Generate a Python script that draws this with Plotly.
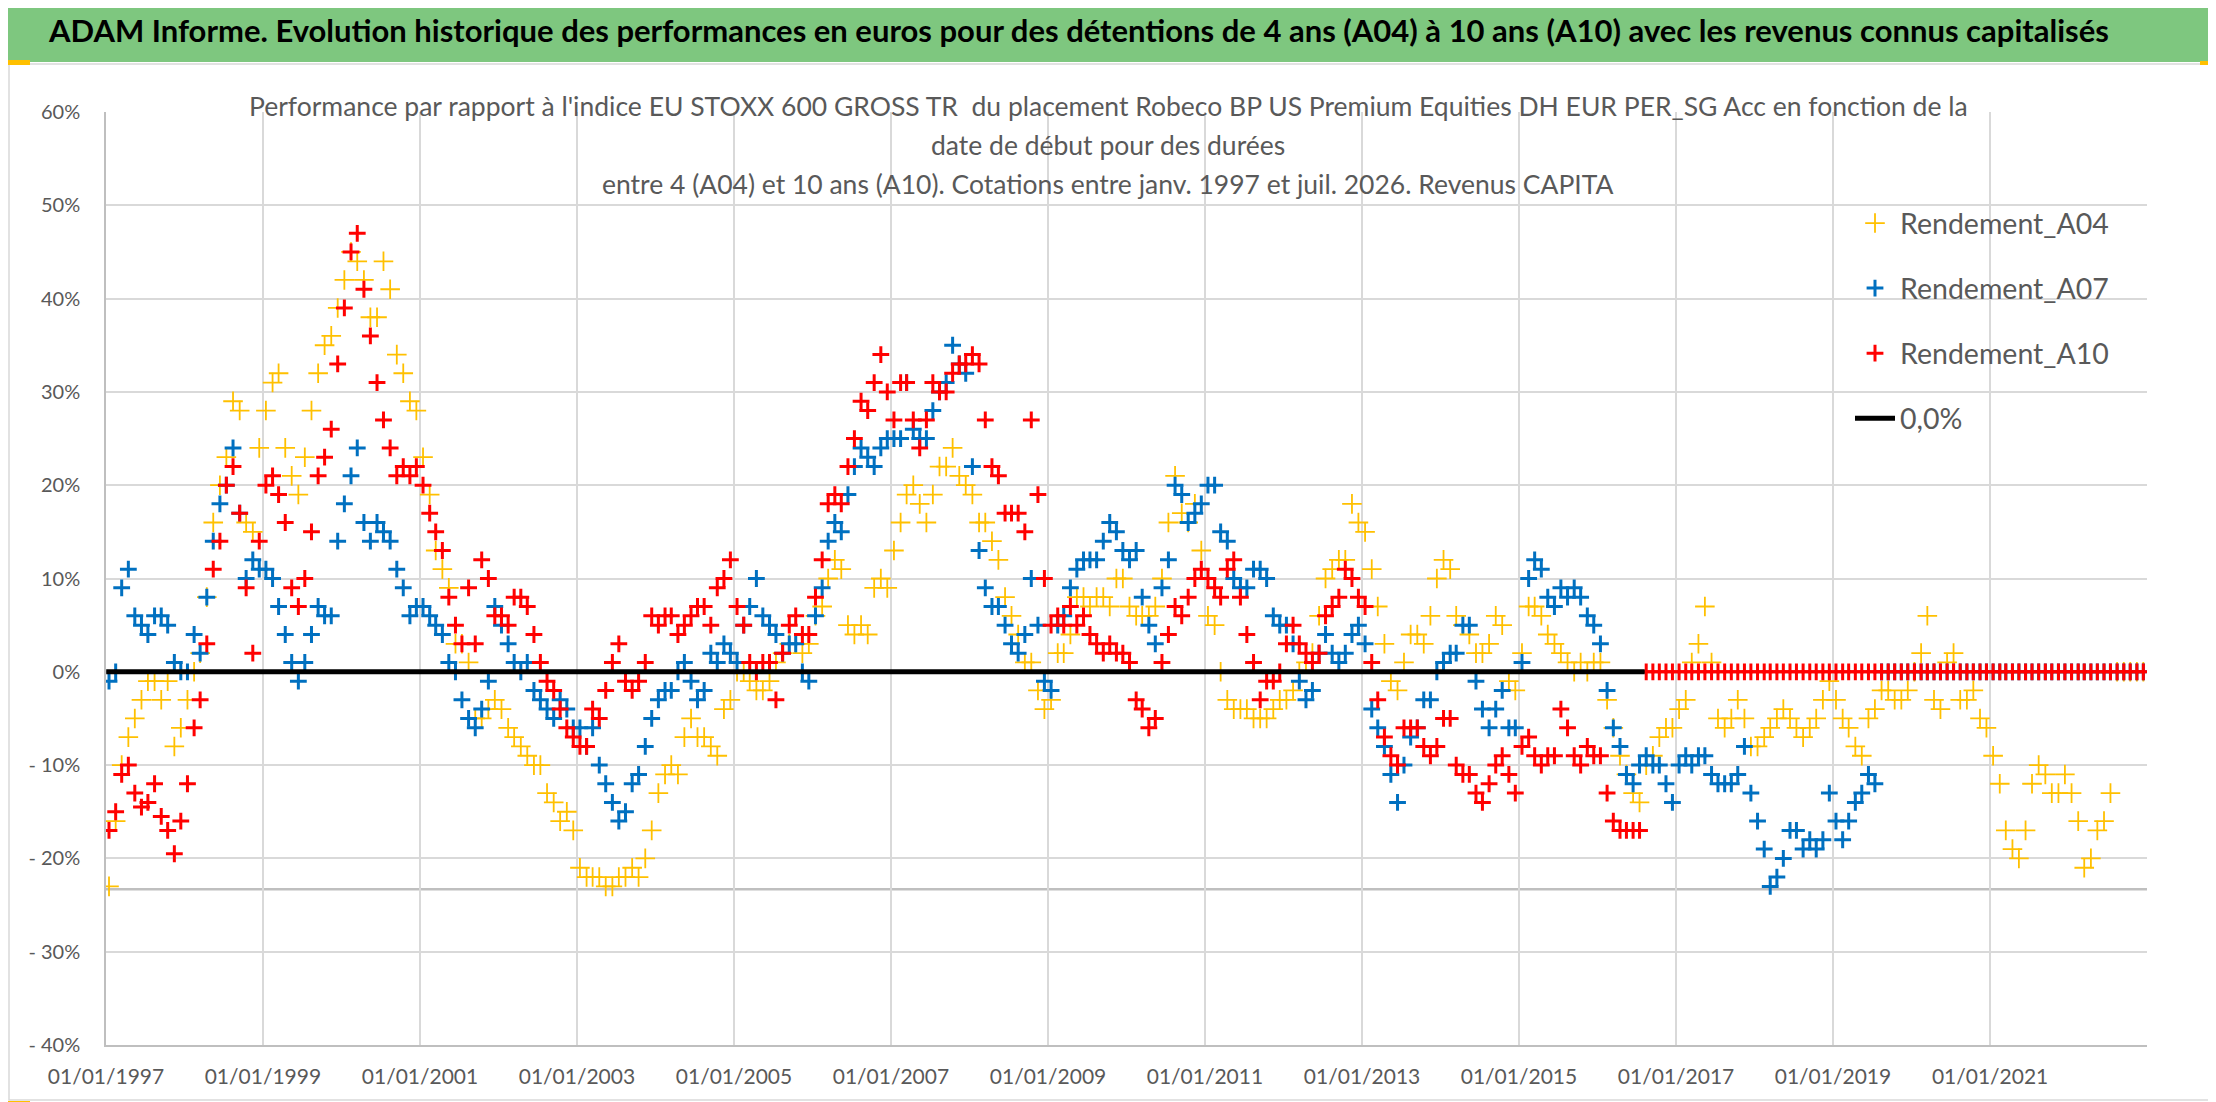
import pandas as pd
import plotly.graph_objects as go

# monthly readings (in %), one row per year, Jan..Dec, from 1997 to 2022
rendement_a04 = [
    -23, -16, -10, -7, -5, -3, -1, -1, -3, -1, -8, -6,      # 1997
    -3, 0, 2, 8, 16, 20, 23, 29, 28, 16, 15, 24,            # 1998
    28, 31, 32, 24, 21, 19, 23, 28, 32, 35, 36, 39,         # 1999
    42, 45, 44, 42, 38, 38, 44, 41, 34, 32, 29, 28,         # 2000
    23, 19, 13, 11, 9, 3, 3, 1, -5, -5, -4, -3,             # 2001
    -4, -6, -7, -8, -9, -10, -10, -13, -14, -16, -15, -17,  # 2002
    -21, -22, -22, -22, -23, -23, -22, -22, -21, -22, -20, -17,  # 2003
    -13, -11, -10, -11, -7, -5, -7, -7, -8, -9, -4, -3,     # 2004
    0, 0, -1, -2, -2, -1, 1, 2, 3, 3, 2, 3,                 # 2005
    6, 7, 10, 12, 11, 5, 4, 5, 4, 9, 10, 9,                 # 2006
    13, 16, 19, 20, 18, 16, 19, 22, 22, 24, 21, 20,         # 2007
    19, 16, 16, 14, 12, 8, 6, 4, 1, 1, -2, -4,              # 2008
    -3, 2, 2, 4, 8, 8, 7, 8, 8, 7, 10, 10,                  # 2009
    7, 6, 6, 6, 7, 10, 16, 21, 17, 16, 18, 13,              # 2010
    6, 5, 0, -3, -4, -4, -4, -5, -5, -5, -4, -3,            # 2011
    -3, -2, 0, 1, 2, 6, 10, 11, 12, 12, 18, 16,             # 2012
    15, 11, 7, 3, -1, -2, 1, 4, 4, 3, 6, 10,                # 2013
    12, 11, 6, 5, 4, 2, 2, 3, 6, 5, -1, -2,                 # 2014
    2, 7, 7, 6, 4, 3, 2, 1, 0, 1, 0, 1,                     # 2015
    1, -3, -6, -9, -11, -13, -14, -10, -9, -7, -6, -6,      # 2016
    -4, -3, 1, 3, 7, 1, -5, -6, -5, -3, -5, -8,             # 2017
    -8, -7, -6, -5, -4, -5, -6, -7, -6, -5, -3, -1,         # 2018
    -3, -5, -6, -8, -9, -5, -4, -2, -2, -3, -3, -2,         # 2019
    0, 2, 6, -3, -4, 1, 2, -3, -3, -2, -5, -6,              # 2020
    -9, -12, -17, -19, -20, -17, -12, -10, -11, -13, -13, -11,  # 2021
    -13, -16, -21, -20, -17, -16, -13, 0, 0, 0, 0, 0,       # 2022
]

rendement_a07 = [
    -1, 0, 9, 11, 6, 5, 4, 6, 6, 5, 1, 0,                   # 1997
    0, 4, 2, 8, 14, 18, 20, 24, 17, 10, 12, 11,             # 1998
    11, 10, 7, 4, 1, -1, 1, 4, 7, 6, 6, 14,                 # 1999
    18, 21, 24, 16, 14, 16, 15, 14, 11, 9, 6, 7,            # 2000
    7, 6, 5, 4, 1, 0, -3, -5, -6, -4, -1, 7,                # 2001
    5, 3, 1, 0, 1, -2, -3, -4, -5, -3, -4, -6,              # 2002
    -6, -8, -6, -10, -12, -14, -16, -15, -12, -11, -8, -5,  # 2003
    -3, -2, -2, 0, 1, -1, -3, -2, 2, 1, 3, 2,               # 2004
    1, 5, 7, 10, 6, 5, 4, 2, 3, 3, 0, -1,                   # 2005
    6, 9, 14, 16, 15, 19, 22, 24, 23, 22, 24, 25,           # 2006
    25, 25, 31, 26, 25, 25, 28, 30, 31, 35, 33, 32,         # 2007
    22, 13, 9, 7, 7, 5, 3, 2, 4, 10, 5, -1,                 # 2008
    -2, 5, 6, 9, 11, 12, 12, 12, 14, 16, 15, 13,            # 2009
    12, 13, 8, 5, 3, 9, 12, 20, 19, 16, 17, 18,             # 2010
    20, 20, 15, 14, 10, 9, 9, 11, 11, 10, 6, 5,             # 2011
    5, 3, -1, -3, -2, 2, 4, 2, 1, 2, 4, 5,                  # 2012
    3, -4, -6, -8, -11, -14, -10, -7, -6, -3, -3, 0,        # 2013
    1, 2, 2, 5, 5, -1, -4, -6, -4, -2, -6, -6,              # 2014
    1, 10, 12, 11, 8, 7, 9, 8, 9, 8, 6, 5,                  # 2015
    3, -2, -6, -8, -11, -12, -10, -9, -10, -10, -12, -14,   # 2016
    -10, -9, -10, -9, -9, -11, -12, -12, -12, -11, -8, -13, # 2017
    -16, -19, -23, -22, -20, -17, -17, -19, -18, -19, -18, -13,  # 2018
    -16, -18, -16, -14, -13, -11, -12, 0, 0, 0, 0, 0,       # 2019
    0, 0, 0, 0, 0, 0, 0, 0, 0, 0, 0, 0,                     # 2020
    0, 0, 0, 0, 0, 0, 0, 0, 0, 0, 0, 0,                     # 2021
    0, 0, 0, 0, 0, 0, 0, 0, 0, 0, 0, 0,                     # 2022
]

rendement_a10 = [
    -17, -15, -11, -10, -13, -14.5, -14, -12, -15.5, -17, -19.5, -16,  # 1997
    -12, -6, -3, 3, 11, 14, 20, 22, 17, 9, 2, 14,           # 1998
    20, 21, 19, 16, 9, 7, 10, 15, 21, 23, 26, 33,           # 1999
    39, 45, 47, 41, 36, 31, 27, 24, 21, 22, 21, 22,         # 2000
    20, 17, 15, 13, 8, 5, 3, 9, 3, 12, 10, 6,               # 2001
    6, 5, 8, 8, 7, 4, 1, -1, -2, -4, -6, -7,                # 2002
    -8, -8, -4, -5, -2, 1, 3, -1, -2, -1, 1, 6,             # 2003
    5, 6, 6, 4, 5, 6, 7, 7, 5, 9, 10, 12,                   # 2004
    7, 5, 1, 0, 1, 1, -3, 2, 5, 6, 4, 4,                    # 2005
    8, 12, 18, 19, 18, 22, 25, 29, 28, 31, 34, 30,          # 2006
    27, 31, 31, 27, 24, 27, 31, 30, 30, 32, 33, 33,         # 2007
    34, 33, 27, 22, 21, 17, 17, 17, 15, 27, 19, 10,         # 2008
    5, 6, 5, 7, 5, 6, 4, 3, 2, 3, 2, 2,                     # 2009
    1, -3, -4, -6, -5, 1, 4, 7, 6, 8, 10, 11,               # 2010
    10, 9, 8, 11, 12, 8, 4, 1, -3, -1, -1, 0,               # 2011
    3, 5, 3, 2, 1, 2, 6, 7, 8, 11, 10, 8,                   # 2012
    7, 1, -3, -7, -9, -10, -6, -6, -6, -8, -9, -8,          # 2013
    -5, -5, -10, -11, -11, -13, -14, -12, -10, -9, -11, -13,  # 2014
    -8, -7, -9, -10, -9, -9, -4, -6, -9, -10, -8, -9,       # 2015
    -9, -13, -16, -17, -17, -17, -17, 0, 0, 0, 0, 0,        # 2016
    0, 0, 0, 0, 0, 0, 0, 0, 0, 0, 0, 0,                     # 2017
    0, 0, 0, 0, 0, 0, 0, 0, 0, 0, 0, 0,                     # 2018
    0, 0, 0, 0, 0, 0, 0, 0, 0, 0, 0, 0,                     # 2019
    0, 0, 0, 0, 0, 0, 0, 0, 0, 0, 0, 0,                     # 2020
    0, 0, 0, 0, 0, 0, 0, 0, 0, 0, 0, 0,                     # 2021
    0, 0, 0, 0, 0, 0, 0, 0, 0, 0, 0, 0,                     # 2022
]

zero_line_dates = ["1997-01-02", "2016-08-08"]
zero_line_values = [0, 0]
grey_level = -23.3

y_ticks = [-40, -30, -20, -10, 0, 10, 20, 30, 40, 50, 60]
y_labels = ["- 40%", "- 30%", "- 20%", "- 10%", "0%", "10%", "20%", "30%", "40%", "50%", "60%"]
x_years = list(range(1997, 2023, 2))

dates = pd.date_range("1997-01-01", periods=len(rendement_a04), freq="MS") + pd.Timedelta(days=14)

FONT = "Lato"
GREY = "#595959"

# plot area in page pixels
L, R, T, B = 98, 2139, 104, 1037
def px(x):
    return (x - L) / (R - L)
def py(y):
    return (B - y) / (B - T)

fig = go.Figure()

fig.add_trace(go.Scatter(
    x=dates, y=rendement_a04, mode="markers", name="Rendement_A04", legendgroup="a",
    marker=dict(symbol="cross-thin", size=14, line=dict(color="#FFC000", width=1.8)),
))
fig.add_trace(go.Scatter(
    x=dates, y=rendement_a07, mode="markers", name="Rendement_A07", legendgroup="b",
    marker=dict(symbol="cross-thin", size=12, line=dict(color="#0070C0", width=3)),
))
fig.add_trace(go.Scatter(
    x=dates, y=rendement_a10, mode="markers", name="Rendement_A10", legendgroup="c",
    marker=dict(symbol="cross-thin", size=12, line=dict(color="#FF0000", width=3)),
))
fig.add_trace(go.Scatter(
    x=zero_line_dates, y=zero_line_values, mode="lines", name="0,0%", legendgroup="d",
    line=dict(color="black", width=5),
))

shapes = [
    # green banner
    dict(type="rect", xref="paper", yref="paper", x0=px(0), x1=px(2216), y0=py(54), y1=py(0),
         fillcolor="#7EC77F", line=dict(width=0), layer="below"),
    # chart border
    dict(type="rect", xref="paper", yref="paper", x0=px(1), x1=px(2208), y0=py(1092), y1=py(56),
         fillcolor="rgba(0,0,0,0)", line=dict(color="#D9D9D9", width=1.5), layer="below"),
    # white boxes behind subtitle and legend
    dict(type="rect", xref="paper", yref="paper", x0=px(234), x1=px(1975), y0=py(212), y1=py(60),
         fillcolor="white", line=dict(width=0), layer="between"),
    dict(type="rect", xref="paper", yref="paper", x0=px(1808), x1=px(2139), y0=py(448), y1=py(192),
         fillcolor="white", line=dict(width=0), layer="between"),
    # grey horizontal level
    dict(type="line", xref="paper", yref="y", x0=0, x1=1, y0=grey_level, y1=grey_level,
         line=dict(color="#BFBFBF", width=2.5), layer="between"),
    # selection handles
    dict(type="rect", xref="paper", yref="paper", x0=px(0), x1=px(22), y0=py(57), y1=py(52),
         fillcolor="#FFC000", line=dict(width=0)),
    dict(type="rect", xref="paper", yref="paper", x0=px(0), x1=px(22), y0=py(1100), y1=py(1093),
         fillcolor="#FFC000", line=dict(width=0)),
    dict(type="rect", xref="paper", yref="paper", x0=px(2192), x1=px(2213), y0=py(57), y1=py(53),
         fillcolor="#FFC000", line=dict(width=0)),
    dict(type="rect", xref="paper", yref="paper", x0=px(2209), x1=px(2213), y0=py(70), y1=py(53),
         fillcolor="#FFC000", line=dict(width=0)),
]

def label(text, x, y, size, color, bold=False):
    return dict(text=f"<b>{text}</b>" if bold else text, x=px(x), y=py(y),
                xref="paper", yref="paper", xanchor="center", yanchor="middle",
                showarrow=False, font=dict(family=FONT, size=size, color=color))

annotations = [
    label("ADAM Informe. Evolution historique des performances en euros pour des détentions de 4 ans (A04) à 10 ans (A10) avec les revenus connus capitalisés",
          1070, 22, 31, "black", bold=True),
    label("Performance par rapport à l'indice EU STOXX 600 GROSS TR  du placement Robeco BP US Premium Equities DH EUR PER_SG Acc en fonction de la",
          1100, 98, 26.5, GREY),
    label("date de début pour des durées", 1100, 137, 26.5, GREY),
    label("entre 4 (A04) et 10 ans (A10). Cotations entre janv. 1997 et juil. 2026. Revenus CAPITA",
          1100, 176, 26.5, GREY),
]

fig.update_layout(
    width=2216, height=1102,
    margin=dict(l=L, r=2216 - R, t=T, b=1102 - B, autoexpand=False),
    paper_bgcolor="white", plot_bgcolor="white",
    font=dict(family=FONT, color=GREY),
    shapes=shapes, annotations=annotations,
    showlegend=True,
    legend=dict(x=px(1842), y=py(190), xanchor="left", yanchor="top",
                bgcolor="rgba(0,0,0,0)", font=dict(family=FONT, size=28.5, color=GREY),
                tracegroupgap=25, itemwidth=40),
)

fig.update_xaxes(
    type="date", range=["1997-01-01", "2023-01-01"],
    tickvals=[f"{yr}-01-01" for yr in x_years],
    ticktext=[f"01/01/{yr}" for yr in x_years],
    showgrid=True, gridcolor="#D9D9D9", gridwidth=1.5,
    showline=True, linecolor="#BFBFBF", linewidth=1.5,
    ticks="", ticklabelstandoff=12,
    tickfont=dict(family=FONT, size=21, color=GREY),
    zeroline=False,
)
fig.update_yaxes(
    range=[-40, 60], tickvals=y_ticks, ticktext=y_labels,
    showgrid=True, gridcolor="#D9D9D9", gridwidth=1.5,
    showline=True, linecolor="#BFBFBF", linewidth=1.5,
    ticks="", ticklabelstandoff=20,
    tickfont=dict(family=FONT, size=20, color=GREY),
    zeroline=False,
)

fig.write_html("out.html")
